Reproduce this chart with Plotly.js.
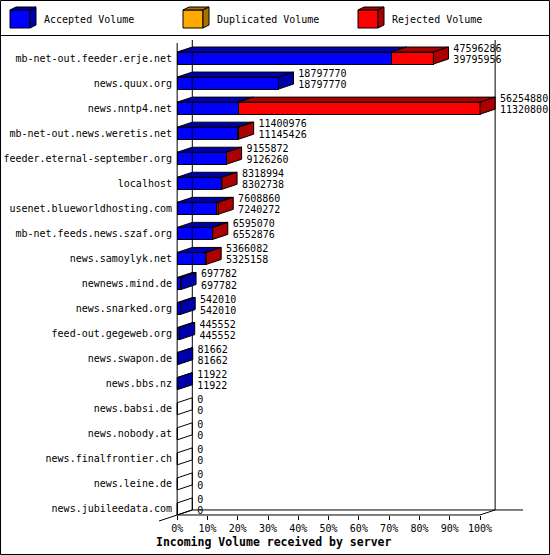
<!DOCTYPE html>
<html>
<head>
<meta charset="utf-8">
<script src="https://cdn.plot.ly/plotly-3.0.1.min.js"></script>
<style>
  html, body { margin: 0; padding: 0; background: #ffffff; }
  #chart { width: 550px; height: 555px; }
</style>
</head>
<body>
<div id="chart"></div>
<script>
const servers = [
  'mb-net-out.feeder.erje.net', 'news.quux.org', 'news.nntp4.net',
  'mb-net-out.news.weretis.net', 'feeder.eternal-september.org', 'localhost',
  'usenet.blueworldhosting.com', 'mb-net.feeds.news.szaf.org', 'news.samoylyk.net',
  'newnews.mind.de', 'news.snarked.org', 'feed-out.gegeweb.org', 'news.swapon.de',
  'news.bbs.nz', 'news.babsi.de', 'news.nobody.at', 'news.finalfrontier.ch',
  'news.leine.de', 'news.jubileedata.com'
];
const offered = [
  47596286, 18797770, 56254880, 11400976, 9155872, 8318994, 7608860, 6595070,
  5366082, 697782, 542010, 445552, 81662, 11922, 0, 0, 0, 0, 0
];
const accepted = [
  39795956, 18797770, 11320800, 11145426, 9126260, 8302738, 7240272, 6552876,
  5325158, 697782, 542010, 445552, 81662, 11922, 0, 0, 0, 0, 0
];
const duplicated = [0, 0, 0, 0, 0, 0, 0, 0, 0, 0, 0, 0, 0, 0, 0, 0, 0, 0, 0];
const pctTicks = [0, 10, 20, 30, 40, 50, 60, 70, 80, 90, 100];
const legendNames = ['Accepted Volume', 'Duplicated Volume', 'Rejected Volume'];
const xTitle = 'Incoming Volume received by server';

const COLORS = {
  acc: '#0000ff', accDark: '#0000aa',
  dup: '#ffaa00', dupDark: '#aa7100',
  rej: '#ff0000', rejDark: '#aa0000',
  line: '#000000'
};
const FONT = 'DejaVu Sans Mono, monospace';

// page geometry (px) and pseudo-3d depth
const W = 550, H = 555;
const M = { l: 159, r: 27, t: 38, b: 32 };
const PW = W - M.l - M.r, PH = H - M.t - M.b;
const X_RANGE = [-6, 114.2];
const Y_RANGE = [18.56, -0.8];
const DX = 5;        // depth in percent units
const DY = 0.2;      // depth in row units
const HALF = 0.24;   // half bar thickness in rows
const FLOOR = 18.24; // front floor row

const maxTotal = Math.max(...offered);
const pct = v => v / maxTotal * 100;
const rows = servers.map((_, i) => i);
const rejected = offered.map((v, i) => v - accepted[i] - duplicated[i]);

// paper coords from page pixels (for frame and legend decorations)
const px = x => (x - M.l) / PW;
const py = y => 1 - (y - M.t) / PH;

const faces = {
  topAcc: { x: [], y: [] }, topDup: { x: [], y: [] }, topRej: { x: [], y: [] },
  endAcc: { x: [], y: [] }, endDup: { x: [], y: [] }, endRej: { x: [], y: [] },
  endZero: { x: [], y: [] }
};
const addPoly = (face, xs, ys) => {
  face.x.push(...xs, null);
  face.y.push(...ys, null);
};

rows.forEach(r => {
  const a = pct(accepted[r]);
  const d = pct(duplicated[r]);
  const t = pct(offered[r]);
  const top = r - HALF, bot = r + HALF;
  const segs = [[0, a, 'Acc'], [a, a + d, 'Dup'], [a + d, t, 'Rej']];
  let last = null;
  segs.forEach(([x0, x1, key]) => {
    if (x1 - x0 <= 0) return;
    addPoly(faces['top' + key],
      [x0, x1, x1 + DX, x0 + DX, x0],
      [top, top, top - DY, top - DY, top]);
    last = key;
  });
  const endX = [t, t + DX, t + DX, t, t];
  const endY = [top, top - DY, bot - DY, bot, top];
  addPoly(last ? faces['end' + last] : faces.endZero, endX, endY);
});

const faceTrace = (face, color) => ({
  type: 'scatter', mode: 'lines', x: face.x, y: face.y,
  fill: color ? 'toself' : 'none', fillcolor: color,
  line: { color: COLORS.line, width: 1 },
  hoverinfo: 'skip', showlegend: false
});

const barTrace = (name, vals, color) => ({
  type: 'bar', orientation: 'h', name: name,
  y: rows, x: vals.map(pct), width: HALF * 2,
  marker: { color: color, line: { color: COLORS.line, width: 1 } },
  hovertemplate: '%{x:.1f}%<extra>' + name + '</extra>',
  showlegend: false
});

// frame of the 3d box
const frame = {
  type: 'scatter', mode: 'lines',
  x: [0, 0, null, DX, DX, null, 100 + DX, 100 + DX, null,
      DX, X_RANGE[1], null, 0, 100, 100 + DX, null, X_RANGE[0], DX],
  y: [-0.6, FLOOR, null, -0.72, FLOOR - DY, null, -0.72, FLOOR - DY, null,
      FLOOR - DY, FLOOR - DY, null, FLOOR, FLOOR, FLOOR - DY, null,
      FLOOR + DY * (-X_RANGE[0]) / DX, FLOOR - DY],
  line: { color: COLORS.line, width: 1 },
  hoverinfo: 'skip', showlegend: false
};

const labelTrace = (vals, dyRow) => ({
  type: 'scatter', mode: 'text',
  x: offered.map(v => pct(v) + DX + 1.6),
  y: rows.map(r => r + dyRow),
  text: vals.map(String),
  textposition: 'middle right',
  textfont: { family: FONT, size: 10, color: '#000' },
  cliponaxis: false, hoverinfo: 'skip', showlegend: false
});

const traces = [
  barTrace(legendNames[0], accepted, COLORS.acc),
  barTrace(legendNames[1], duplicated, COLORS.dup),
  barTrace(legendNames[2], rejected, COLORS.rej),
  frame,
  faceTrace(faces.topAcc, COLORS.accDark),
  faceTrace(faces.topDup, COLORS.dupDark),
  faceTrace(faces.topRej, COLORS.rejDark),
  faceTrace(faces.endAcc, COLORS.accDark),
  faceTrace(faces.endDup, COLORS.dupDark),
  faceTrace(faces.endRej, COLORS.rejDark),
  faceTrace(faces.endZero, null),
  labelTrace(offered, -0.34),
  labelTrace(accepted, 0.1)
];

// legend cubes (drawn as decorations at fixed page positions)
const legendX = [10, 183, 358];
const legendFront = [COLORS.acc, COLORS.dup, COLORS.rej];
const legendSide = [COLORS.accDark, COLORS.dupDark, COLORS.rejDark];
const shapes = [];
const annotations = [];
const pathOf = pts => 'M' + pts.map(p => px(p[0]) + ',' + py(p[1])).join('L') + 'Z';
legendX.forEach((x0, i) => {
  const x1 = x0 + 20, y0 = 10, y1 = 28, ox = 6, oy = 3;
  shapes.push({ type: 'path', xref: 'paper', yref: 'paper', fillcolor: legendFront[i],
    line: { color: '#000', width: 1 }, path: pathOf([[x0, y0], [x1, y0], [x1, y1], [x0, y1]]) });
  shapes.push({ type: 'path', xref: 'paper', yref: 'paper', fillcolor: legendSide[i],
    line: { color: '#000', width: 1 }, path: pathOf([[x0, y0], [x1, y0], [x1 + ox, y0 - oy], [x0 + ox, y0 - oy]]) });
  shapes.push({ type: 'path', xref: 'paper', yref: 'paper', fillcolor: legendSide[i],
    line: { color: '#000', width: 1 }, path: pathOf([[x1, y0], [x1 + ox, y0 - oy], [x1 + ox, y1 - oy], [x1, y1]]) });
  annotations.push({ xref: 'paper', yref: 'paper', x: px(x0 + 32), y: py(20),
    xanchor: 'left', yanchor: 'middle', showarrow: false, text: legendNames[i],
    font: { family: FONT, size: 10, color: '#000' } });
});

// outer border and legend separator
shapes.push({ type: 'rect', xref: 'paper', yref: 'paper', x0: px(0.5), x1: px(549.5),
  y0: py(0.5), y1: py(554.5), line: { color: '#000', width: 1 } });
shapes.push({ type: 'line', xref: 'paper', yref: 'paper', x0: px(0), x1: px(550),
  y0: py(35.5), y1: py(35.5), line: { color: '#000', width: 1 } });

annotations.push({ xref: 'paper', yref: 'paper', x: px(154), y: py(542),
  xanchor: 'left', yanchor: 'middle', showarrow: false, text: '<b>' + xTitle + '</b>',
  font: { family: FONT, size: 11.5, color: '#000' } });

const layout = {
  width: W, height: H,
  margin: { l: M.l, r: M.r, t: M.t, b: M.b, pad: 0 },
  paper_bgcolor: '#ffffff', plot_bgcolor: '#ffffff',
  font: { family: FONT, size: 10, color: '#000' },
  barmode: 'stack', showlegend: false, hovermode: 'closest',
  xaxis: {
    range: X_RANGE, anchor: 'free',
    position: (Y_RANGE[0] - FLOOR) / (Y_RANGE[0] - Y_RANGE[1]),
    tickvals: pctTicks, ticktext: pctTicks.map(t => t + '%'),
    ticks: 'outside', ticklen: 4, tickcolor: '#000', tickwidth: 1,
    showgrid: false, zeroline: false, showline: false, fixedrange: true,
    tickfont: { family: FONT, size: 10, color: '#000' }
  },
  yaxis: {
    range: Y_RANGE, anchor: 'free', position: px(177),
    tickvals: rows, ticktext: servers, ticks: '', ticklabelstandoff: 5,
    showgrid: false, zeroline: false, showline: false, fixedrange: true,
    tickfont: { family: FONT, size: 10, color: '#000' }
  },
  shapes: shapes,
  annotations: annotations
};

Plotly.newPlot('chart', traces, layout, { displayModeBar: false, staticPlot: false });
</script>
</body>
</html>
